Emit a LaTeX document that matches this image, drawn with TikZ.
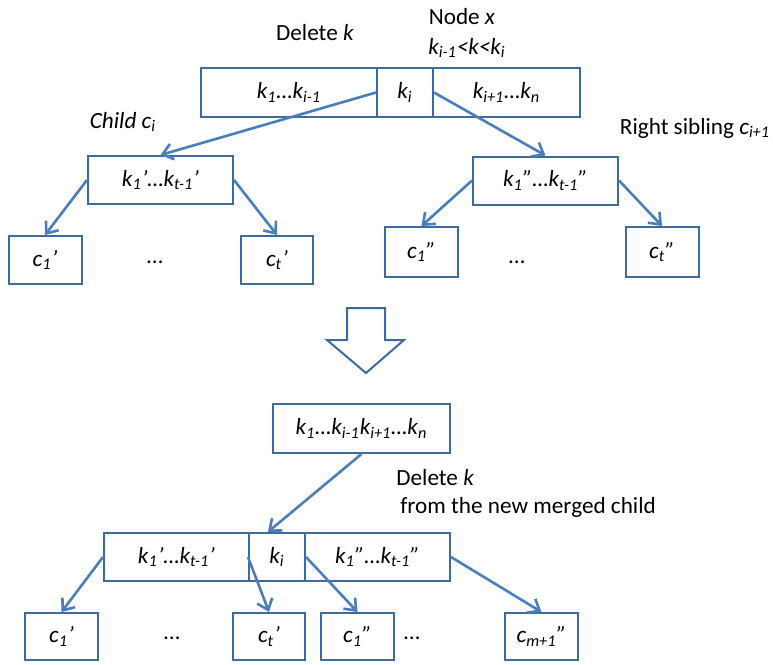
\documentclass[tikz,border=0pt]{standalone}
\usepackage{fontspec}
\setmainfont{Carlito}
\usetikzlibrary{arrows.meta}
\definecolor{boxblue}{HTML}{3F6A9E}
\definecolor{lineblue}{HTML}{4A7EBB}
\newcommand\diagfont{\fontsize{11.6}{13.9}\selectfont}
\newcommand\sub[1]{\textsubscript{#1}}
\tikzset{
  cell/.style={draw=boxblue,line width=1pt,inner sep=0pt,minimum height=24pt,font=\diagfont\itshape},
  leaf/.style={cell,minimum width=36.5pt},
  link/.style={draw=lineblue,line width=1.3pt,-{Straight Barb[length=5pt,width=8pt]}},
  note/.style={inner sep=0pt,font=\diagfont},
}
\begin{document}
\begin{tikzpicture}[x=0.5pt,y=-0.5pt]
\useasboundingbox (0,0) rectangle (773,665);

% node x before the merge
\node[cell,minimum width=88pt,minimum height=24.5pt] (xleft) at (289,92.5) {k\sub{1}…k\sub{i-1}};
\node[cell,minimum width=28pt,minimum height=24.5pt] (xmid) at (405,92.5) {k\sub{i}};
\node[cell,minimum width=73.5pt,minimum height=24.5pt] (xright) at (506.5,92.5) {k\sub{i+1}…k\sub{n}};
\node[note] (dellbl) at (315,33) {Delete \textit{k}};
\node[note] (nodelbl) at (462,17) {Node \textit{x}};
\node[note] (rangelbl) at (467,48) {\textit{k\sub{i-1}<k<k\sub{i}}};

% children c_i and c_{i+1}
\node[cell,minimum width=72.5pt] (ci) at (160.5,180) {k\sub{1}’…k\sub{t-1}’};
\node[cell,minimum width=72.5pt] (cj) at (545.5,180.5) {k\sub{1}”…k\sub{t-1}”};
\node[note] (cilbl) at (123,122) {\textit{Child c\sub{i}}};
\node[note] (cjlbl) at (695,128) {Right sibling \textit{c\sub{i+1}}};

\node[leaf] (ci1) at (45,260) {c\sub{1}’};
\node[leaf,minimum width=36pt] (cit) at (277,260) {c\sub{t}’};
\node[note] (cidots) at (155,262) {…};
\node[leaf,minimum height=25pt] (cj1) at (421.5,252) {c\sub{1}”};
\node[leaf,minimum height=25pt] (cjt) at (662,252) {c\sub{t}”};
\node[note] (cjdots) at (517,262) {…};

\draw[link] (xmid.west) -- (ci.north);
\draw[link] (xmid.east) -- (cj.north);
\draw[link] (ci.west) -- (ci1.north);
\draw[link] (ci.east) -- (cit.north);
\draw[link] (cj.west) -- (cj1.north);
\draw[link] (cj.east) -- (cjt.north);

% big arrow
\draw[boxblue,line width=1pt] (347,308) -- (385,308) -- (385,340) -- (404,340)
  -- (366,373) -- (327,340) -- (347,340) -- cycle;

% after the merge
\node[cell,minimum width=88.5pt,minimum height=24.5pt] (root) at (361.5,428.5) {k\sub{1}…k\sub{i-1}k\sub{i+1}…k\sub{n}};
\node[note,anchor=west,align=left,font=\fontsize{11.6}{14}\selectfont] (del2lbl) at (396,493)
  {Delete \textit{k}\\\hspace{2pt}from the new merged child};

\node[cell,minimum width=72.5pt] (mleft) at (176.5,557) {k\sub{1}’…k\sub{t-1}’};
\node[cell,minimum width=28pt] (mmid) at (277,557) {k\sub{i}};
\node[cell,minimum width=72.5pt] (mright) at (377.5,557) {k\sub{1}”…k\sub{t-1}”};

\node[leaf,minimum height=23.5pt] (m1) at (61.5,636.5) {c\sub{1}’};
\node[leaf,minimum width=36pt,minimum height=23.5pt] (mt) at (269,636.5) {c\sub{t}’};
\node[leaf,minimum height=23.5pt] (mt1) at (357.5,636.5) {c\sub{1}”};
\node[leaf,minimum height=23.5pt] (mlast) at (541.5,636.5) {c\sub{m+1}”};
\node[note] (mdots1) at (172,638) {…};
\node[note] (mdots2) at (412,638) {…};

\draw[link] (root.south) -- (mmid.110);
\draw[link] (mleft.west) -- (m1.north);
\draw[link] (mmid.west) -- (mt.north);
\draw[link] (mmid.east) -- (mt1.north);
\draw[link] (mright.east) -- (mlast.north);
\end{tikzpicture}
\end{document}
